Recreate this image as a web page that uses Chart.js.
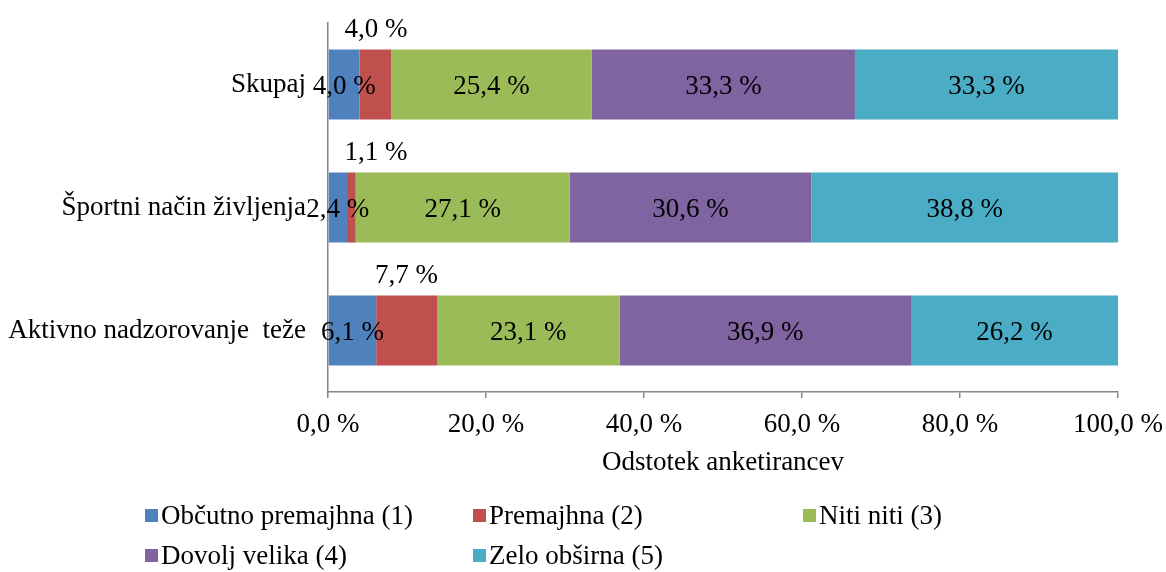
<!DOCTYPE html>
<html>
<head>
<meta charset="utf-8">
<script src="https://cdn.jsdelivr.net/npm/chart.js@4/dist/chart.umd.min.js"></script>
<style>
    html, body { margin: 0; padding: 0; background: #ffffff; }
    canvas { display: block; }
</style>
</head>
<body>
<canvas id="grafChart" width="1166" height="572"></canvas>
<script>
// Podatki (odstotki anketirancev)
var categories = ['Skupaj', 'Športni način življenja', 'Aktivno nadzorovanje  teže'];
var seriesNames = ['Občutno premajhna (1)', 'Premajhna (2)', 'Niti niti (3)', 'Dovolj velika (4)', 'Zelo obširna (5)'];
var obcutnoPremajhna = [4.0, 2.4, 6.1];
var premajhna = [4.0, 1.1, 7.7];
var nitiNiti = [25.4, 27.1, 23.1];
var dovoljVelika = [33.3, 30.6, 36.9];
var zeloObsirna = [33.3, 38.8, 26.2];
var xTicks = [0, 20, 40, 60, 80, 100];

var seriesValues = [obcutnoPremajhna, premajhna, nitiNiti, dovoljVelika, zeloObsirna];
var colors = ['#4F81BD', '#C0504D', '#9BBB59', '#8064A2', '#4BACC6'];
var FONT = '27px "Liberation Serif", "Times New Roman", serif';

function fmt(v) {
    return v.toFixed(1).replace('.', ',') + ' %';
}

// Oznake podatkov
var labelsPlugin = {
    id: 'oznake',
    afterDatasetsDraw: function(chart) {
        var ctx = chart.ctx;
        ctx.save();
        ctx.font = FONT;
        ctx.fillStyle = '#000000';
        ctx.textAlign = 'center';
        ctx.textBaseline = 'middle';
        chart.data.datasets.forEach(function(ds, i) {
            var meta = chart.getDatasetMeta(i);
            meta.data.forEach(function(bar, j) {
                var p = bar.getProps(['x', 'y', 'base', 'height'], true);
                var cx = (p.x + p.base) / 2;
                var cy = p.y + 2;
                if (i === 1) {
                    // mali delež nad stolpcem
                    cx = Math.max(cx, chart.chartArea.left + 48);
                    cy = p.y - p.height / 2 - 20;
                }
                ctx.fillText(fmt(ds.data[j]), cx, cy);
            });
        });
        ctx.restore();
    }
};

// Legenda v dveh vrsticah
var legendSlots = [[145, 516], [473, 516], [803, 516], [145, 556], [473, 556]];
var legendPlugin = {
    id: 'legenda',
    afterDraw: function(chart) {
        var ctx = chart.ctx;
        ctx.save();
        ctx.font = FONT;
        ctx.textAlign = 'left';
        ctx.textBaseline = 'middle';
        chart.data.datasets.forEach(function(ds, i) {
            var pos = legendSlots[i];
            ctx.fillStyle = ds.backgroundColor;
            ctx.fillRect(pos[0], pos[1] - 7, 13, 13);
            ctx.fillStyle = '#000000';
            ctx.fillText(ds.label, pos[0] + 16, pos[1] + 1);
        });
        ctx.restore();
    }
};

var ctx = document.getElementById('grafChart').getContext('2d');
var grafChart = new Chart(ctx, {
    type: 'bar',
    data: {
        labels: categories,
        datasets: seriesNames.map(function(name, i) {
            return {
                label: name,
                data: seriesValues[i],
                backgroundColor: colors[i],
                borderWidth: 0,
                barPercentage: 0.57,
                categoryPercentage: 1.0
            };
        })
    },
    options: {
        indexAxis: 'y',
        responsive: false,
        animation: false,
        devicePixelRatio: 1,
        layout: {
            padding: { top: 23, right: 48, bottom: 93, left: 0 }
        },
        plugins: {
            legend: { display: false },
            tooltip: { enabled: false }
        },
        scales: {
            x: {
                stacked: true,
                min: 0,
                max: 100,
                afterBuildTicks: function(scale) {
                    scale.ticks = xTicks.map(function(v) { return { value: v }; });
                },
                afterFit: function(scale) {
                    scale.height = 87;
                    scale.paddingLeft = 0;
                    scale.paddingRight = 0;
                },
                ticks: {
                    color: '#000000',
                    font: { family: '"Liberation Serif", serif', size: 27 },
                    padding: 11,
                    maxRotation: 0,
                    callback: function(v) { return fmt(v); }
                },
                grid: {
                    display: true,
                    drawOnChartArea: false,
                    drawTicks: true,
                    tickLength: 6,
                    color: '#868686',
                    lineWidth: 1.5
                },
                border: { display: true, color: '#868686', width: 1.5 },
                title: {
                    display: true,
                    text: 'Odstotek anketirancev',
                    color: '#000000',
                    font: { family: '"Liberation Serif", serif', size: 27 },
                    padding: { top: 4, bottom: 0 }
                }
            },
            y: {
                stacked: true,
                afterFit: function(scale) {
                    scale.width = 328;
                    scale.paddingTop = 0;
                    scale.paddingBottom = 0;
                },
                ticks: {
                    color: '#000000',
                    font: { family: '"Liberation Serif", serif', size: 27 },
                    padding: 22
                },
                grid: { display: false, drawTicks: false },
                border: { display: true, color: '#868686', width: 1.5 }
            }
        }
    },
    plugins: [labelsPlugin, legendPlugin]
});
</script>
</body>
</html>
